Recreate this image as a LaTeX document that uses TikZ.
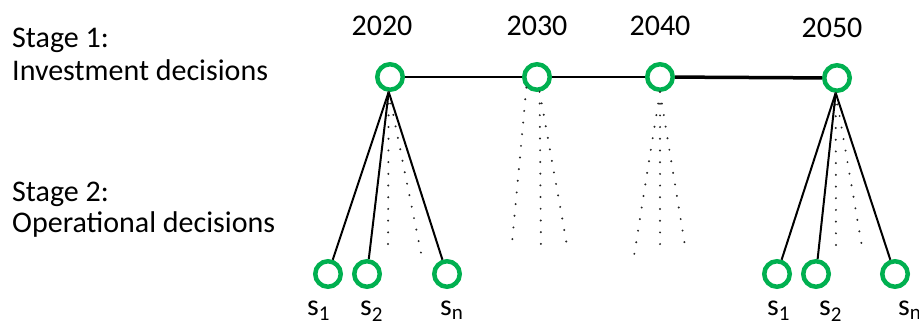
\documentclass[tikz,border=0pt]{standalone}
\usepackage{fontspec}
\setmainfont{Carlito}
\usetikzlibrary{calc}
\definecolor{nodegreen}{RGB}{0,176,80}
\tikzset{
  stagenode/.style={circle,draw=nodegreen,line width=4.5pt,minimum size=25.5pt,inner sep=0pt,fill=white},
  tree/.style={line width=2pt},
  dotline/.style={line width=2.2pt,line cap=round,dash pattern=on 0pt off 11.7pt,black!85},
  txt/.style={anchor=base west,inner sep=0pt,font=\fontsize{30}{36}\selectfont},
  year/.style={anchor=base,inner sep=0pt,font=\fontsize{30}{36}\selectfont}
}
\begin{document}
\begin{tikzpicture}[x=1pt,y=-1pt]
\useasboundingbox (0,0) rectangle (919,323);
% stage labels
\node[txt] (st1) at (12,48) {Stage 1:};
\node[txt] (inv) at (12,81) {Investment decisions};
\node[txt] (st2) at (12,202) {Stage 2:};
\node[txt] (op) at (12,233) {Operational decisions};
% years
\node[year] (y2020) at (382,36) {2020};
\node[year] (y2030) at (537,36) {2030};
\node[year] (y2040) at (660,36) {2040};
\node[year] (y2050) at (832,38) {2050};
% investment nodes
\node[stagenode] (a) at (390,77) {};
\node[stagenode] (b) at (537,77) {};
\node[stagenode] (c) at (660,77) {};
\node[stagenode] (d) at (837,78) {};
\draw[line width=2.5pt] (a) -- (b) -- (c);
\draw[line width=3.5pt] (c) -- (d);
% scenario nodes
\node[stagenode] (as1) at (328,274) {};
\node[stagenode] (as2) at (367,274) {};
\node[stagenode] (asn) at (447,274) {};
\node[stagenode] (ds1) at (777,274) {};
\node[stagenode] (ds2) at (816,274) {};
\node[stagenode] (dsn) at (895,274) {};
\foreach \s in {as1,as2,asn} \draw[tree] (a.-95) -- (\s);
\foreach \s in {ds1,ds2,dsn} \draw[tree] (d.-95) -- (\s);
% dotted fans
\coordinate (ae1) at (388,255);
\coordinate (ae2) at (421,253);
\coordinate (be1) at (512,243);
\coordinate (be2) at (541,252);
\coordinate (be3) at (568,251);
\coordinate (ce1) at (634,256);
\coordinate (ce2) at (660,253);
\coordinate (ce3) at (686,252);
\coordinate (de1) at (836,255);
\coordinate (de2) at (863,253);
\draw[dotline] (a.-95) -- (ae1) (a.-95) -- (ae2);
\draw[dotline] (b.-135) -- (be1) (b.-80) -- (be2) (b.-80) -- (be3);
\draw[dotline] (c.south) -- (ce1) (c.south) -- (ce2) (c.south) -- (ce3);
\draw[dotline] (d.-95) -- (de1) (d.-95) -- (de2);
% scenario labels
\node[txt] (la1) at (307,316) {s\textsubscript{1}};
\node[txt] (la2) at (360,316) {s\textsubscript{2}};
\node[txt] (lan) at (440,316) {s\textsubscript{n}};
\node[txt] (ld1) at (767,316) {s\textsubscript{1}};
\node[txt] (ld2) at (819,316) {s\textsubscript{2}};
\node[txt] (ldn) at (898,316) {s\textsubscript{n}};
\end{tikzpicture}
\end{document}
